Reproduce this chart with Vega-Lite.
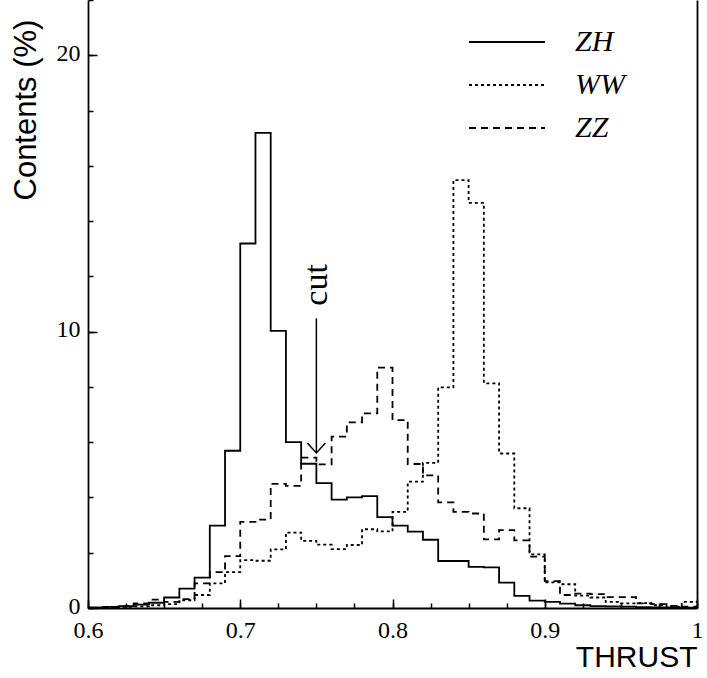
{
  "$schema": "https://vega.github.io/schema/vega-lite/v6.json",
  "width": 609,
  "height": 608,
  "autosize": {"type": "none"},
  "padding": {"left": 88, "top": 0, "right": 10, "bottom": 70},
  "background": "white",
  "config": {
    "view": {"stroke": null},
    "axis": {"domainColor": "black", "tickColor": "black", "labelColor": "black", "titleColor": "black", "grid": false, "domainWidth": 1.8, "tickWidth": 1.5},
    "legend": {"padding": 0, "offset": 0}
  },
  "resolve": {"axis": {"x": "independent", "y": "independent"}},
  "layer": [
    {
      "data": {"values": [
        {"s":"ZH","x":0.60,"y":0.02},{"s":"ZH","x":0.61,"y":0.04},{"s":"ZH","x":0.62,"y":0.07},{"s":"ZH","x":0.63,"y":0.12},{"s":"ZH","x":0.64,"y":0.19},
        {"s":"ZH","x":0.65,"y":0.38},{"s":"ZH","x":0.66,"y":0.70},{"s":"ZH","x":0.67,"y":1.10},{"s":"ZH","x":0.68,"y":2.98},{"s":"ZH","x":0.69,"y":5.69},
        {"s":"ZH","x":0.70,"y":13.19},{"s":"ZH","x":0.71,"y":17.19},{"s":"ZH","x":0.72,"y":10.03},{"s":"ZH","x":0.73,"y":6.00},{"s":"ZH","x":0.74,"y":5.22},
        {"s":"ZH","x":0.75,"y":4.52},{"s":"ZH","x":0.76,"y":3.92},{"s":"ZH","x":0.77,"y":4.00},{"s":"ZH","x":0.78,"y":4.05},{"s":"ZH","x":0.79,"y":3.29},
        {"s":"ZH","x":0.80,"y":2.98},{"s":"ZH","x":0.81,"y":2.76},{"s":"ZH","x":0.82,"y":2.47},{"s":"ZH","x":0.83,"y":1.70},{"s":"ZH","x":0.84,"y":1.70},
        {"s":"ZH","x":0.85,"y":1.49},{"s":"ZH","x":0.86,"y":1.47},{"s":"ZH","x":0.87,"y":0.92},{"s":"ZH","x":0.88,"y":0.44},{"s":"ZH","x":0.89,"y":0.27},
        {"s":"ZH","x":0.90,"y":0.22},{"s":"ZH","x":0.91,"y":0.16},{"s":"ZH","x":0.92,"y":0.10},{"s":"ZH","x":0.93,"y":0.07},{"s":"ZH","x":0.94,"y":0.06},
        {"s":"ZH","x":0.95,"y":0.05},{"s":"ZH","x":0.96,"y":0.03},{"s":"ZH","x":0.97,"y":0.02},{"s":"ZH","x":0.98,"y":0.02},{"s":"ZH","x":0.99,"y":0.01},
        {"s":"ZH","x":1.00,"y":0.01},
        {"s":"WW","x":0.60,"y":0.00},{"s":"WW","x":0.61,"y":0.02},{"s":"WW","x":0.62,"y":0.04},{"s":"WW","x":0.63,"y":0.06},{"s":"WW","x":0.64,"y":0.10},
        {"s":"WW","x":0.65,"y":0.14},{"s":"WW","x":0.66,"y":0.28},{"s":"WW","x":0.67,"y":0.47},{"s":"WW","x":0.68,"y":0.89},{"s":"WW","x":0.69,"y":1.30},
        {"s":"WW","x":0.70,"y":1.73},{"s":"WW","x":0.71,"y":1.71},{"s":"WW","x":0.72,"y":2.12},{"s":"WW","x":0.73,"y":2.73},{"s":"WW","x":0.74,"y":2.43},
        {"s":"WW","x":0.75,"y":2.29},{"s":"WW","x":0.76,"y":2.13},{"s":"WW","x":0.77,"y":2.28},{"s":"WW","x":0.78,"y":2.85},{"s":"WW","x":0.79,"y":2.77},
        {"s":"WW","x":0.80,"y":3.48},{"s":"WW","x":0.81,"y":4.57},{"s":"WW","x":0.82,"y":5.25},{"s":"WW","x":0.83,"y":7.98},{"s":"WW","x":0.84,"y":15.48},
        {"s":"WW","x":0.85,"y":14.66},{"s":"WW","x":0.86,"y":8.13},{"s":"WW","x":0.87,"y":5.59},{"s":"WW","x":0.88,"y":3.61},{"s":"WW","x":0.89,"y":1.94},
        {"s":"WW","x":0.90,"y":0.93},{"s":"WW","x":0.91,"y":0.86},{"s":"WW","x":0.92,"y":0.45},{"s":"WW","x":0.93,"y":0.38},{"s":"WW","x":0.94,"y":0.22},
        {"s":"WW","x":0.95,"y":0.17},{"s":"WW","x":0.96,"y":0.18},{"s":"WW","x":0.97,"y":0.10},{"s":"WW","x":0.98,"y":0.05},{"s":"WW","x":0.99,"y":0.22},
        {"s":"WW","x":1.00,"y":0.22},
        {"s":"ZZ","x":0.60,"y":0.00},{"s":"ZZ","x":0.61,"y":0.02},{"s":"ZZ","x":0.62,"y":0.06},{"s":"ZZ","x":0.63,"y":0.17},{"s":"ZZ","x":0.64,"y":0.30},
        {"s":"ZZ","x":0.65,"y":0.22},{"s":"ZZ","x":0.66,"y":0.32},{"s":"ZZ","x":0.67,"y":0.89},{"s":"ZZ","x":0.68,"y":1.30},{"s":"ZZ","x":0.69,"y":1.88},
        {"s":"ZZ","x":0.70,"y":3.12},{"s":"ZZ","x":0.71,"y":3.20},{"s":"ZZ","x":0.72,"y":4.49},{"s":"ZZ","x":0.73,"y":4.42},{"s":"ZZ","x":0.74,"y":5.44},
        {"s":"ZZ","x":0.75,"y":5.20},{"s":"ZZ","x":0.76,"y":6.20},{"s":"ZZ","x":0.77,"y":6.72},{"s":"ZZ","x":0.78,"y":7.04},{"s":"ZZ","x":0.79,"y":8.70},
        {"s":"ZZ","x":0.80,"y":6.80},{"s":"ZZ","x":0.81,"y":5.21},{"s":"ZZ","x":0.82,"y":4.80},{"s":"ZZ","x":0.83,"y":3.82},{"s":"ZZ","x":0.84,"y":3.48},
        {"s":"ZZ","x":0.85,"y":3.42},{"s":"ZZ","x":0.86,"y":2.48},{"s":"ZZ","x":0.87,"y":2.82},{"s":"ZZ","x":0.88,"y":2.45},{"s":"ZZ","x":0.89,"y":1.86},
        {"s":"ZZ","x":0.90,"y":0.97},{"s":"ZZ","x":0.91,"y":0.47},{"s":"ZZ","x":0.92,"y":0.52},{"s":"ZZ","x":0.93,"y":0.50},{"s":"ZZ","x":0.94,"y":0.39},
        {"s":"ZZ","x":0.95,"y":0.39},{"s":"ZZ","x":0.96,"y":0.17},{"s":"ZZ","x":0.97,"y":0.14},{"s":"ZZ","x":0.98,"y":0.08},{"s":"ZZ","x":0.99,"y":0.05},
        {"s":"ZZ","x":1.00,"y":0.05}
      ]},
      "mark": {"type": "line", "interpolate": "step-after", "stroke": "black", "strokeWidth": 1.8},
      "encoding": {
        "x": {"field": "x", "type": "quantitative", "scale": {"domain": [0.6, 1.0], "nice": false, "zero": false},
          "axis": {"orient": "bottom", "values": [0.6, 0.7, 0.8, 0.9, 1.0], "format": "~g", "ticks": false, "domain": true,
            "labelFont": "Times New Roman, Liberation Serif, DejaVu Serif, serif", "labelFontSize": 24, "labelPadding": 10, "labelFlush": false, "labelOverlap": false,
            "title": "THRUST", "titleFont": "Liberation Sans, Arial, sans-serif", "titleFontSize": 30, "titleFontWeight": "normal",
            "titleX": 609, "titleY": 58, "titleAlign": "right", "titleBaseline": "alphabetic"}},
        "y": {"field": "y", "type": "quantitative", "scale": {"domain": [0, 22], "nice": false},
          "axis": {"orient": "left", "values": [0, 10, 20], "ticks": false, "domain": true,
            "labelFont": "Times New Roman, Liberation Serif, DejaVu Serif, serif", "labelFontSize": 24, "labelPadding": 8, "labelOffset": -2, "labelFlush": false, "labelOverlap": false,
            "title": "Contents (%)", "titleFont": "Liberation Sans, Arial, sans-serif", "titleFontSize": 31, "titleFontWeight": "normal",
            "titleAngle": 270, "titleX": -53, "titleY": 200, "titleAlign": "left", "titleBaseline": "alphabetic"}},
        "strokeDash": {"field": "s", "type": "nominal",
          "scale": {"domain": ["ZH", "WW", "ZZ"], "range": [[1, 0], [3, 3], [7, 5]]},
          "legend": {"orient": "none", "legendX": 404, "legendY": 27, "title": null, "symbolType": "M-3,0H3", "symbolSize": 642,
            "symbolStrokeWidth": 1.8, "symbolStrokeColor": "black", "symbolFillColor": "transparent", "labelFont": "Times New Roman, Liberation Serif, DejaVu Serif, serif", "labelFontStyle": "italic",
            "labelFontSize": 30, "labelOffset": 53, "labelColor": "black", "rowPadding": 13}}
      }
    },
    {
      "data": {"values": [{"x": 0.75, "y": 10.48, "y2": 5.61}]},
      "mark": {"type": "rule", "stroke": "black", "strokeWidth": 1.5},
      "encoding": {
        "x": {"field": "x", "type": "quantitative",
          "axis": {"orient": "bottom", "values": [0.6, 0.7, 0.8, 0.9, 1.0], "tickSize": -9, "labels": false, "domain": false, "title": null}},
        "y": {"field": "y", "type": "quantitative",
          "axis": {"orient": "left", "values": [0, 10, 20], "tickSize": -9, "labels": false, "domain": false, "title": null}},
        "y2": {"field": "y2"}
      }
    },
    {
      "data": {"values": [{"x": 0.75, "y": 5.61}]},
      "mark": {"type": "point", "shape": "M-1,-1.1L0,0L1,-1.1", "size": 324, "filled": false, "stroke": "black", "strokeWidth": 1.5, "opacity": 1},
      "encoding": {
        "x": {"field": "x", "type": "quantitative",
          "axis": {"orient": "bottom", "values": [0.6, 0.625, 0.65, 0.675, 0.7, 0.725, 0.75, 0.775, 0.8, 0.825, 0.85, 0.875, 0.9, 0.925, 0.95, 0.975, 1.0], "tickSize": -5, "labels": false, "domain": false, "title": null}},
        "y": {"field": "y", "type": "quantitative",
          "axis": {"orient": "left", "values": [0, 2, 4, 6, 8, 10, 12, 14, 16, 18, 20, 22], "tickSize": -5, "labels": false, "domain": false, "title": null}}
      }
    },
    {
      "data": {"values": [{"x": 0.75, "y": 11.69, "label": "cut"}]},
      "mark": {"type": "text", "angle": 270, "align": "center", "baseline": "alphabetic", "dy": 11, "font": "Times New Roman, Liberation Serif, DejaVu Serif, serif", "fontSize": 34, "fill": "black"},
      "encoding": {
        "x": {"field": "x", "type": "quantitative", "axis": null},
        "y": {"field": "y", "type": "quantitative",
          "axis": {"orient": "right", "ticks": false, "labels": false, "domain": true, "title": null}},
        "text": {"field": "label"}
      }
    }
  ]
}
